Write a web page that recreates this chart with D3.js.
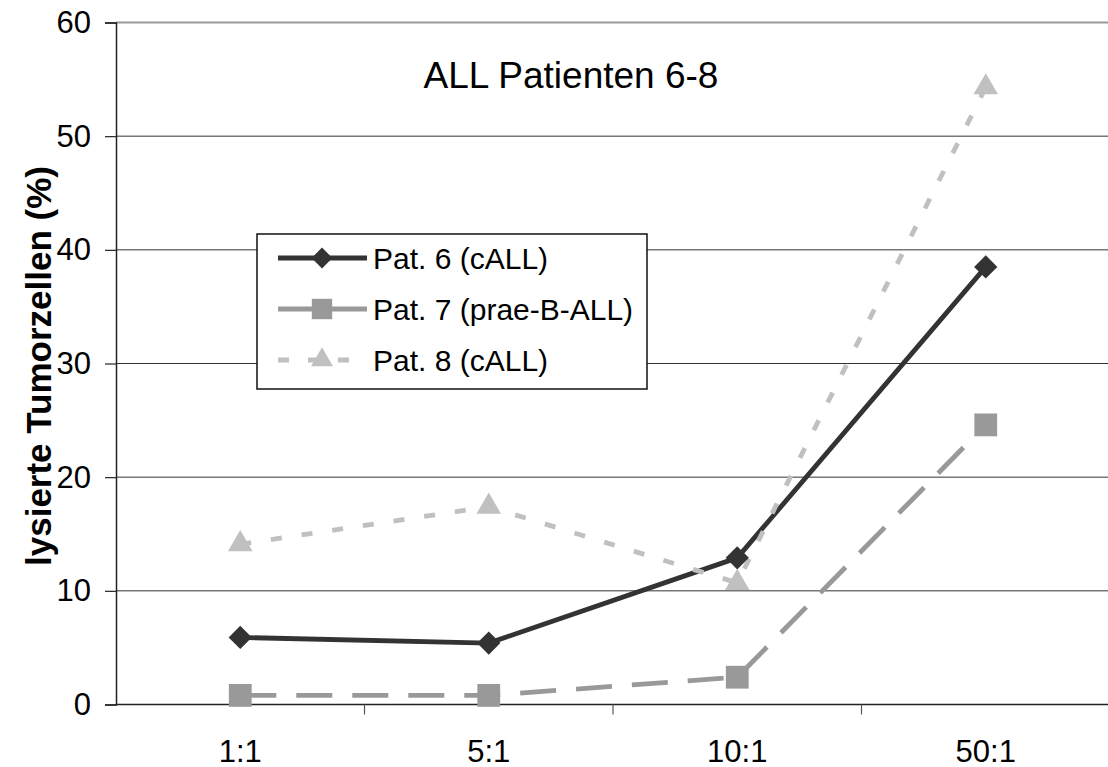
<!DOCTYPE html>
<html>
<head>
<meta charset="utf-8">
<script src="https://cdn.jsdelivr.net/npm/d3@7"></script>
<style>
  body { margin: 0; background: white; }
  svg { display: block; font-family: Arial, 'Liberation Sans', sans-serif; }
</style>
</head>
<body>
<svg id="chart" width="1108" height="767"></svg>
<script>
// ratios on the x axis
const ratios = ['1:1', '5:1', '10:1', '50:1'];
const yTicks = [0, 10, 20, 30, 40, 50, 60];

// lysed tumour cells in %
const pat6 = [5.9, 5.4, 12.9, 38.5];
const pat7 = [0.8, 0.8, 2.4, 24.6];
const pat8 = [14.1, 17.4, 10.7, 54.3];

const seriesNames = ['Pat. 6 (cALL)', 'Pat. 7 (prae-B-ALL)', 'Pat. 8 (cALL)'];

// diamond = square turned by 45 degrees
const series = [
  { name: seriesNames[0], values: pat6, color: '#333333', dash: null, symbol: d3.symbolSquare, size: 270, rot: 45 },
  { name: seriesNames[1], values: pat7, color: '#999999', dash: '36,20', symbol: d3.symbolSquare, size: 520, rot: 0 },
  { name: seriesNames[2], values: pat8, color: '#c0c0c0', dash: '11,20', symbol: d3.symbolTriangle, size: 260, rot: 0 }
];

const svg = d3.select('#chart');
const plotLeft = 116, plotRight = 1110, plotTop = 22.5, plotBottom = 704.5;

const x = d3.scaleBand().domain(ratios).range([plotLeft, plotRight]);
const y = d3.scaleLinear().domain([0, 60]).range([plotBottom, plotTop]);

// gridlines
svg.append('g')
  .selectAll('line')
  .data(yTicks.filter(d => d > 0 && d < 60))
  .join('line')
  .attr('x1', plotLeft).attr('x2', plotRight)
  .attr('y1', d => y(d)).attr('y2', d => y(d))
  .attr('stroke', '#333')
  .attr('stroke-width', 1);

// top border of the plot area
svg.append('line')
  .attr('x1', plotLeft).attr('x2', plotRight)
  .attr('y1', y(60)).attr('y2', y(60))
  .attr('stroke', '#999')
  .attr('stroke-width', 2);

// y axis
const yAxis = svg.append('g')
  .attr('transform', `translate(${plotLeft},0)`)
  .call(d3.axisLeft(y).tickValues(yTicks).tickSize(11).tickPadding(14));
yAxis.select('.domain').attr('stroke', '#222').attr('stroke-width', 1.5);
yAxis.selectAll('.tick line').attr('stroke', '#222').attr('stroke-width', 1.2);
yAxis.selectAll('text')
  .attr('font-size', '31px')
  .attr('font-family', 'Arial, Liberation Sans, sans-serif')
  .attr('fill', '#000');

// x axis, ticks between categories
const xAxis = svg.append('g')
  .attr('transform', `translate(0,${plotBottom})`);
xAxis.append('line')
  .attr('x1', plotLeft).attr('x2', plotRight)
  .attr('stroke', '#222').attr('stroke-width', 1.5);
xAxis.selectAll('.xtick')
  .data(ratios.slice(1))
  .join('line')
  .attr('class', 'xtick')
  .attr('x1', d => x(d)).attr('x2', d => x(d))
  .attr('y1', 0).attr('y2', 10)
  .attr('stroke', '#555').attr('stroke-width', 1.2);
xAxis.selectAll('.xlabel')
  .data(ratios)
  .join('text')
  .attr('class', 'xlabel')
  .attr('x', d => x(d) + x.bandwidth() / 2)
  .attr('y', 57)
  .attr('text-anchor', 'middle')
  .attr('font-size', '31px')
  .text(d => d);

// y label
svg.append('text')
  .attr('transform', 'translate(51,366) rotate(-90)')
  .attr('text-anchor', 'middle')
  .attr('font-size', '35px')
  .attr('font-weight', 'bold')
  .text('lysierte Tumorzellen (%)');

// title
svg.append('text')
  .attr('x', 571)
  .attr('y', 88)
  .attr('text-anchor', 'middle')
  .attr('font-size', '37px')
  .text('ALL Patienten 6-8');

// legend box
const legend = svg.append('g').attr('transform', 'translate(257,234)');
legend.append('rect')
  .attr('width', 390).attr('height', 155)
  .attr('fill', 'white')
  .attr('stroke', '#111')
  .attr('stroke-width', 1.5);

const line = d3.line()
  .x((d, i) => x(ratios[i]) + x.bandwidth() / 2)
  .y(d => y(d));

// lines first, then markers
svg.append('g')
  .selectAll('path')
  .data(series)
  .join('path')
  .attr('d', d => line(d.values))
  .attr('fill', 'none')
  .attr('stroke', d => d.color)
  .attr('stroke-width', 4.8)
  .attr('stroke-dasharray', d => d.dash)
  .attr('stroke-linejoin', 'round');

series.forEach(s => {
  svg.append('g')
    .selectAll('path')
    .data(s.values)
    .join('path')
    .attr('transform', (d, i) => `translate(${x(ratios[i]) + x.bandwidth() / 2},${y(d)}) rotate(${s.rot})`)
    .attr('d', d3.symbol().type(s.symbol).size(s.size))
    .attr('fill', s.color);
});

// legend entries
const entries = legend.selectAll('.entry')
  .data(series)
  .join('g')
  .attr('class', 'entry')
  .attr('transform', (d, i) => `translate(0,${24 + i * 51})`);

entries.append('line')
  .attr('x1', 21).attr('x2', 110)
  .attr('stroke', d => d.color)
  .attr('stroke-width', 4.8)
  .attr('stroke-dasharray', (d, i) => i === 2 ? '11,19' : null);

entries.append('path')
  .attr('transform', d => `translate(65,0) rotate(${d.rot})`)
  .attr('d', d => d3.symbol().type(d.symbol).size(d.size * 0.8)())
  .attr('fill', d => d.color);

entries.append('text')
  .attr('x', 116)
  .attr('dy', '0.36em')
  .attr('font-size', '30px')
  .text(d => d.name);
</script>
</body>
</html>
